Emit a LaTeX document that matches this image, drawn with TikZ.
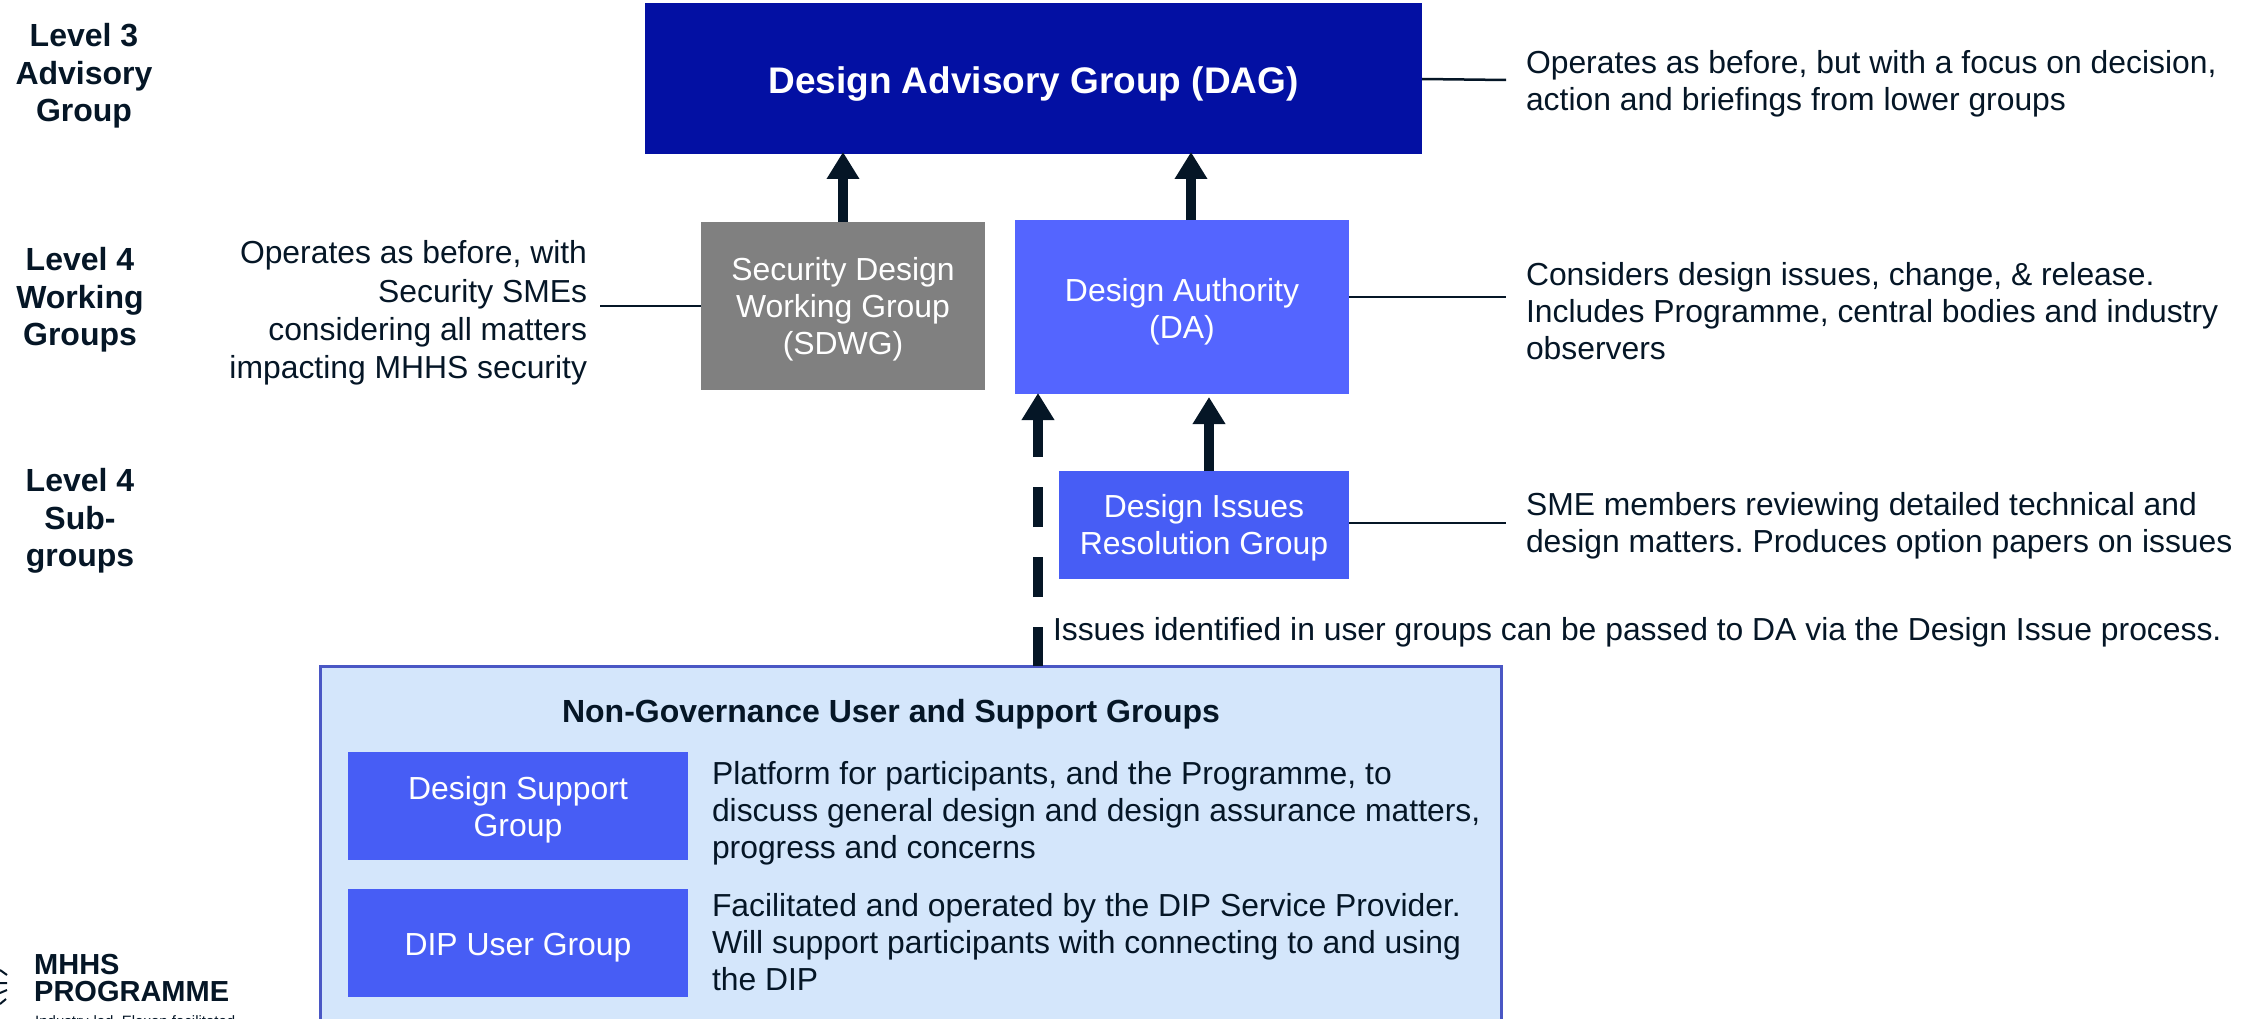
\documentclass[tikz,border=0pt]{standalone}
\usepackage{fontspec}
\setmainfont{Liberation Sans}
\usetikzlibrary{arrows.meta}
\frenchspacing
\definecolor{ink}{HTML}{051626}
\definecolor{dagblue}{HTML}{0310A3}
\definecolor{dablue}{HTML}{5465FF}
\definecolor{midblue}{HTML}{475DF5}
\definecolor{paleblue}{HTML}{D4E6FB}
\definecolor{edgeblue}{HTML}{4A57C4}
\definecolor{sdgrey}{HTML}{808080}
\tikzset{
 x=1pt,y=-1pt,
 box/.style={inner sep=0pt,outer sep=0pt,anchor=north west},
 boxtext/.style={inner sep=0pt,outer sep=0pt,align=center,text=white,font=\fontsize{31.9}{37}\selectfont},
 txt/.style={inner sep=0pt,outer sep=0pt,text=ink,font=\fontsize{31.85}{37}\selectfont},
 lvl/.style={txt,align=center,font=\fontsize{32}{37.3}\selectfont\bfseries},
 link/.style={draw=ink,line width=2.5pt},
 flow/.style={draw=ink,line width=10pt,-{Triangle[length=27pt,width=31pt]}},
}
\begin{document}
\begin{tikzpicture}
\useasboundingbox (0,0) rectangle (2259,1019);
\clip (0,0) rectangle (2259,1019);
% level labels
\node[lvl] (l3) at (84,76) {Level 3\\Advisory\\Group};
\node[lvl] (l4a) at (80,300) {Level 4\\Working\\Groups};
\node[lvl] (l4b) at (80,521) {Level 4\\Sub-\\groups};
% main boxes
\node[box,fill=dagblue,minimum width=777pt,minimum height=151pt,label={[boxtext,yshift=-6pt,font=\fontsize{37}{42}\selectfont\bfseries]center:{Design Advisory Group (DAG)}}] (dag) at (645,3) {};
\node[box,fill=sdgrey,minimum width=284pt,minimum height=168pt,label={[boxtext,yshift=-3pt]center:{Security Design\\Working Group\\(SDWG)}}] (sdwg) at (701,222) {};
\node[box,fill=dablue,minimum width=334pt,minimum height=174pt,label={[boxtext,yshift=-5pt]center:{Design Authority\\(DA)}}] (da) at (1015,220) {};
\node[box,fill=midblue,minimum width=290pt,minimum height=108pt,label={[boxtext,yshift=-3pt]center:{Design Issues\\Resolution Group}}] (dirg) at (1059,471) {};
% non-governance panel
\node[box,fill=paleblue,draw=edgeblue,line width=3pt,minimum width=1181pt,minimum height=400pt] (panel) at (320,666) {};
\node[txt,font=\fontsize{32}{37}\selectfont\bfseries] (ptitle) at (891,714) {Non-Governance User and Support Groups};
\node[box,fill=midblue,minimum width=340pt,minimum height=108pt,label={[boxtext,yshift=-4pt]center:{Design Support\\Group}}] (dsg) at (348,752) {};
\node[box,fill=midblue,minimum width=340pt,minimum height=108pt,label={[boxtext,yshift=-5pt]center:{DIP User Group}}] (dug) at (348,889) {};
\node[txt,anchor=north west,align=left] (dsgt) at (712,761) {Platform for participants, and the Programme, to\\discuss general design and design assurance matters,\\progress and concerns};
\node[txt,anchor=north west,align=left] (dugt) at (712,893) {Facilitated and operated by the DIP Service Provider.\\Will support participants with connecting to and using\\the DIP};
% side texts
\node[txt,anchor=west,align=left] (dagt) at (1526,84) {Operates as before, but with a focus on decision,\\action and briefings from lower groups};
\node[txt,anchor=west,align=left] (dat) at (1526,311) {Considers design issues, change, \& release.\\Includes Programme, central bodies and industry\\observers};
\node[txt,anchor=west,align=left] (dirgt) at (1526,526) {SME members reviewing detailed technical and\\design matters. Produces option papers on issues};
\node[txt,anchor=east,align=right,font=\fontsize{31.85}{38.3}\selectfont] (sdwgt) at (587,313) {Operates as before, with\\Security SMEs\\considering all matters\\impacting MHHS security};
\node[txt,anchor=west] (issues) at (1053,632) {Issues identified in user groups can be passed to DA via the Design Issue process.};
% thin connectors
\coordinate (dagend) at (1506,80);
\coordinate (daend) at (1506,297);
\coordinate (dirgend) at (1506,523);
\coordinate (sdwgend) at (600,306);
\draw[link] (dag.east |- 0,79) -- (dagend);
\draw[link] (da.east |- 0,297) -- (daend);
\draw[link] (dirg.east |- 0,523) -- (dirgend);
\draw[link] (sdwg.west |- 0,306) -- (sdwgend);
% flow arrows
\draw[flow,shorten >=-2pt] (sdwg.north -| 843,0) -- (dag.south -| 843,0);
\draw[flow,shorten >=-2pt] (da.north -| 1191,0) -- (dag.south -| 1191,0);
\draw[flow,shorten >=3pt] (dirg.north -| 1209,0) -- (da.south -| 1209,0);
\draw[draw=ink,line width=10pt,dash pattern=on 40pt off 30pt,dash phase=1pt] (panel.north -| 1038,0) -- (1038,420) coordinate (dashtop);
\draw[flow,shorten >=-1pt] (dashtop) -- (da.south -| 1038,0);
% logo
\node[inner sep=0pt,anchor=north west,align=left,text=ink,font=\fontsize{29}{27}\selectfont\bfseries] (logo) at (34,954) {MHHS\\PROGRAMME};
\node[inner sep=0pt,anchor=north west,text=ink,font=\fontsize{15}{18}\selectfont] (tag) at (35,1015) {Industry-led, Elexon facilitated};
\draw[ink,line width=2pt] (0,970) -- (7,975) (0,983) -- (7,983) (0,993) -- (7,990) (0,1004) -- (6,999);
\end{tikzpicture}
\end{document}
